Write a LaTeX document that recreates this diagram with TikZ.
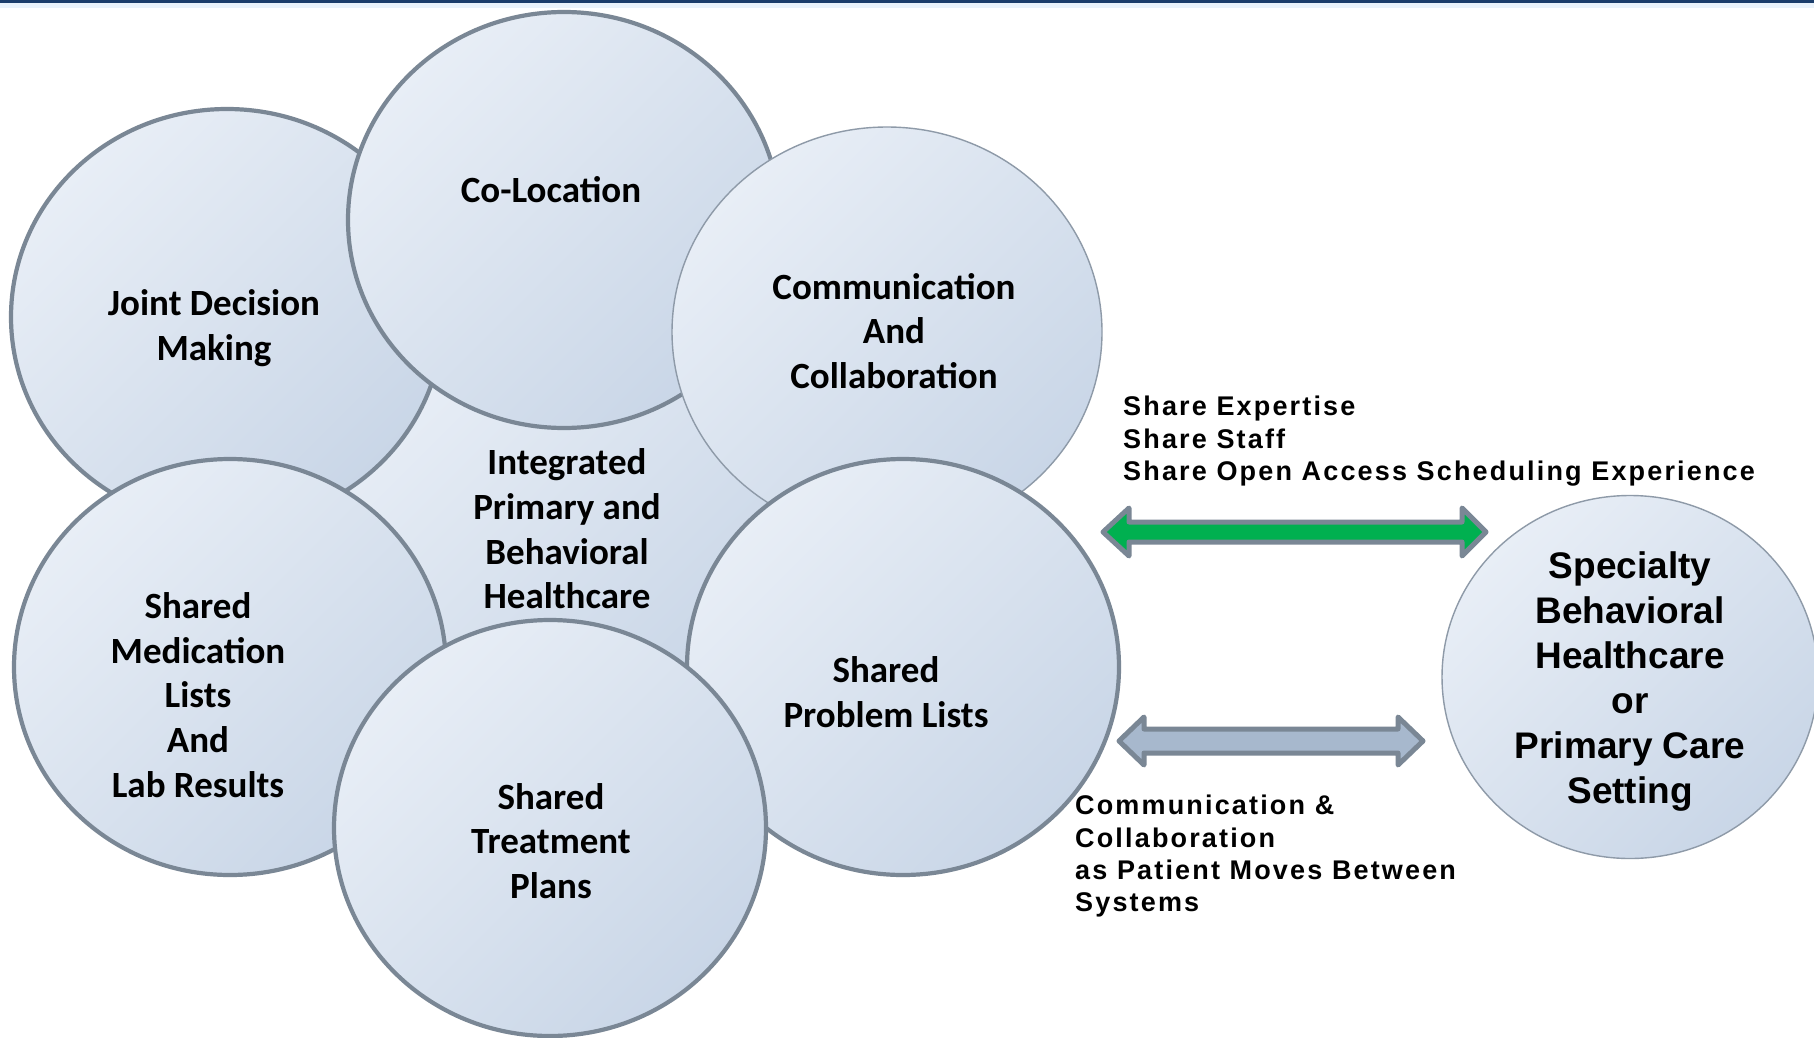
\documentclass[tikz,border=0pt]{standalone}
\usepackage{fontspec}
\setmainfont{Carlito}
\newfontfamily\arialfont{Liberation Sans}
\newfontfamily\sidefont[LetterSpace=8]{Liberation Sans}
\usetikzlibrary{shapes.geometric}
\definecolor{cfillA}{HTML}{E8EEF6}
\definecolor{cfillB}{HTML}{C9D6E7}
\definecolor{cborder}{HTML}{7A8795}
\definecolor{cthin}{HTML}{8E9AA8}
\definecolor{cgreen}{HTML}{00B050}
\definecolor{cblue}{HTML}{A7B8CD}
\definecolor{ctop}{HTML}{1B3D6B}
\definecolor{ctoplight}{HTML}{E9F2FB}
\tikzset{
  bub/.style={ellipse, inner sep=0pt, minimum width=432, minimum height=416,
    top color=cfillA, bottom color=cfillB, shading angle=45},
  thick bub/.style={bub, draw=cborder, line width=4.2pt},
  thin bub/.style={bub, draw=cthin, line width=1.4pt},
  ctext/.style={align=center, inner sep=0pt, font=\bfseries\fontsize{37}{44.6}\selectfont},
  stext/.style={align=center, inner sep=0pt, font=\arialfont\bfseries\fontsize{37}{45}\selectfont},
  sidetext/.style={align=left, anchor=north west, inner sep=0pt, font=\sidefont\bfseries\fontsize{27}{32.3}\selectfont},
  blockarrow/.style={draw=cborder, line width=5pt, line join=round}
}
\begin{document}
\begin{tikzpicture}[x=1pt,y=-1pt]
\useasboundingbox (0,0) rectangle (1814,1038);
\begin{scope}
\clip (0,0) rectangle (1814,1038);
\fill[white] (0,0) rectangle (1814,1038);
\fill[ctoplight] (0,3) rectangle (1814,8);
\fill[ctop] (0,0) rectangle (1814,3.5);
% central bubble (mostly hidden)
\node[bub, minimum width=440, minimum height=420] (mid) at (560,530) {};
\node[thick bub] (joint) at (227,317) {};
\node[thick bub] (coloc) at (564,220) {};
\node[thin bub, minimum width=430, minimum height=410] (comm) at (887,332) {};
\node[thick bub] (med) at (230,667) {};
\node[thick bub] (prob) at (903,667) {};
\node[thick bub] (treat) at (550,828) {};
\node[thin bub, minimum width=376, minimum height=363] (spec) at (1630,677) {};
\end{scope}
% labels
\node[ctext] (tmid) at (567,529) {Integrated\\Primary and\\Behavioral\\Healthcare};
\node[ctext] (tjoint) at (214,328) {Joint Decision\\Making};
\node[ctext] (tcoloc) at (551,190) {Co-Location};
\node[ctext] (tcomm) at (894,331) {Communication\\And\\Collaboration};
\node[ctext] (tmed) at (198,695) {Shared\\Medication\\Lists\\And\\Lab Results};
\node[ctext] (tprob) at (886,692) {Shared\\Problem Lists};
\node[ctext] (ttreat) at (551,841) {Shared\\Treatment\\Plans};
\node[stext] (tspec) at (1630,682) {Specialty\\Behavioral\\Healthcare\\or\\Primary Care\\Setting};
% block arrows
\draw[blockarrow, fill=cgreen] (1103,532) -- (1129,508) -- (1129,522) -- (1462,522) -- (1462,508) -- (1486,532)
  -- (1462,556) -- (1462,542) -- (1129,542) -- (1129,556) -- cycle;
\draw[blockarrow, fill=cblue] (1119,741) -- (1144,717) -- (1144,729) -- (1398,729) -- (1398,717) -- (1423,741)
  -- (1398,765) -- (1398,753) -- (1144,753) -- (1144,765) -- cycle;
% side texts
\node[sidetext] (tshare) at (1123,396) {Share Expertise\\Share Staff\\Share Open Access Scheduling Experience};
\node[sidetext] (tcc) at (1075,795) {Communication \&\\Collaboration\\as Patient Moves Between\\Systems};
\end{tikzpicture}
\end{document}
